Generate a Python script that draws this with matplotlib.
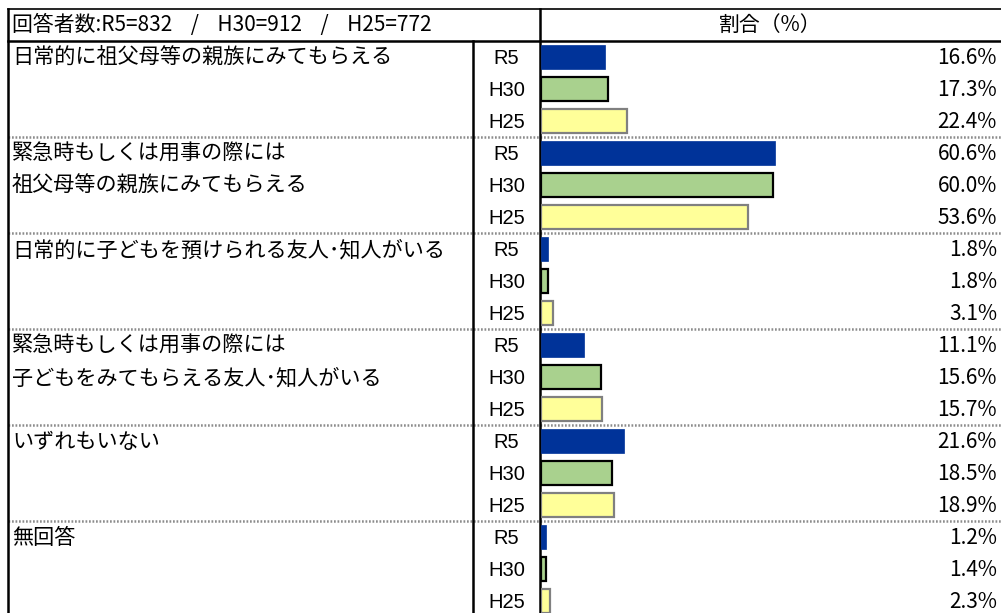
import matplotlib
matplotlib.use("Agg")
import matplotlib.pyplot as plt

plt.rcParams['font.family'] = ['Noto Sans CJK JP', 'DejaVu Sans']

# Data
header_left = "回答者数:R5=832    /    H30=912    /    H25=772"
header_right = "割合（%）"
categories = [
    ["日常的に祖父母等の親族にみてもらえる"],
    ["緊急時もしくは用事の際には", "祖父母等の親族にみてもらえる"],
    ["日常的に子どもを預けられる友人･知人がいる"],
    ["緊急時もしくは用事の際には", "子どもをみてもらえる友人･知人がいる"],
    ["いずれもいない"],
    ["無回答"],
]
years = ["R5", "H30", "H25"]
values_r5 = [16.6, 60.6, 1.8, 11.1, 21.6, 1.2]
values_h30 = [17.3, 60.0, 1.8, 15.6, 18.5, 1.4]
values_h25 = [22.4, 53.6, 3.1, 15.7, 18.9, 2.3]

series = [values_r5, values_h30, values_h25]
face_colors = ["#003399", "#A9D18E", "#FFFF99"]
edge_colors = ["#003399", "#000000", "#808080"]
edge_widths = [0.5, 1.6, 1.6]

W, H = 1001, 613
fig = plt.figure(figsize=(W / 100, H / 100), dpi=100)

# Table layer in pixel coordinates
tab = fig.add_axes([0, 0, 1, 1])
tab.set_xlim(0, W)
tab.set_ylim(H, 0)
tab.axis("off")

top = 9
row_h = 32
x_left = 8
x_mid = 473
x_bar = 540
bar_len = 386  # pixels for 100%

# Bars layer: x in percent, y in row units
bar_ax = fig.add_axes([(x_bar + 1) / W, 0, bar_len / W, 1])
bar_ax.set_xlim(0, 100)
bar_ax.set_ylim((H - top) / row_h, -top / row_h)
bar_ax.axis("off")

n_groups = len(categories)
for g in range(n_groups):
    for s in range(3):
        row = 1 + 3 * g + s
        bar_ax.barh(row + 0.5, series[s][g], height=0.75, left=0,
                    color=face_colors[s], edgecolor=edge_colors[s],
                    linewidth=edge_widths[s], zorder=3)

# Group separators (fine dotted gray)
for g in range(1, n_groups):
    y = top + row_h * (1 + 3 * g)
    tab.plot([x_left, W], [y, y], color="#8c8c8c", lw=1.8,
             linestyle=(0, (0.7, 0.7)), zorder=2)

# Solid rules
tab.plot([x_left, W], [top, top], color="black", lw=1.2, zorder=4)
tab.plot([x_left, W], [top + row_h, top + row_h], color="black", lw=1.8, zorder=4)
tab.plot([x_left, x_left], [top, H], color="black", lw=1.8, zorder=4)
tab.plot([x_mid, x_mid], [top + row_h, H], color="black", lw=1.8, zorder=4)
tab.plot([x_bar, x_bar], [top, H], color="black", lw=1.8, zorder=4)

# Header text
tab.text(12, top + row_h / 2, header_left, fontsize=15, va="center", ha="left")
tab.text((x_bar + W) / 2, top + row_h / 2, header_right, fontsize=15,
         va="center", ha="center")

for g in range(n_groups):
    for i, line in enumerate(categories[g]):
        y = top + row_h * (1 + 3 * g + i) + row_h / 2 + 1
        tab.text(12, y, line, fontsize=15.2, va="center", ha="left")
    for s in range(3):
        y = top + row_h * (1 + 3 * g + s) + row_h / 2 + 1
        tab.text((x_mid + x_bar) / 2, y, years[s], fontsize=14.5,
                 family="Liberation Sans", va="center", ha="center")
        tab.text(997, y, f"{series[s][g]:.1f}%", fontsize=15,
                 va="center", ha="right")

fig.savefig("out.png", dpi=100)
